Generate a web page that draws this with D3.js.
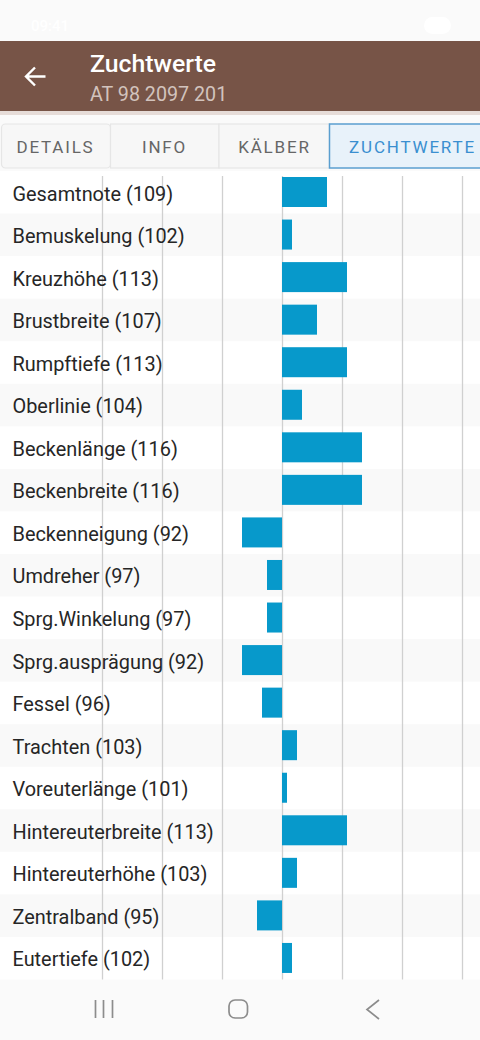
<!DOCTYPE html>
<html>
<head>
<meta charset="utf-8">
<style>
html, body { margin: 0; padding: 0; background: #fafafa; }
svg { display: block; font-family: Roboto, sans-serif; }
</style>
</head>
<body>
<div id="vis"></div>
<script src="https://cdn.jsdelivr.net/npm/d3@7"></script>
<script>
var names = ['Gesamtnote', 'Bemuskelung', 'Kreuzhöhe', 'Brustbreite', 'Rumpftiefe', 'Oberlinie',
    'Beckenlänge', 'Beckenbreite', 'Beckenneigung', 'Umdreher', 'Sprg.Winkelung', 'Sprg.ausprägung',
    'Fessel', 'Trachten', 'Voreuterlänge', 'Hintereuterbreite', 'Hintereuterhöhe', 'Zentralband', 'Eutertiefe'];
var values = [109, 102, 113, 107, 113, 104, 116, 116, 92, 97, 97, 92, 96, 103, 101, 113, 103, 95, 102];
var ticks = [64, 76, 88, 100, 112, 124, 136];
var tabs = ['DETAILS', 'INFO', 'KÄLBER', 'ZUCHTWERTE'];
var tabEdges = [1, 110, 218.5, 329, 482];

var width = 480, height = 1040;
var chartTop = 171, chartBottom = 979.5;

var svg = d3.select('#vis').append('svg')
    .attr('width', width)
    .attr('height', height);

//scales
var x = d3.scaleLinear().domain([64, 136]).range([102, 462]);
var y = d3.scaleBand().domain(names).range([chartTop, chartBottom]).paddingInner(0).paddingOuter(0);
var barHeight = 30;

//page background and status bar
svg.append('rect').attr('width', width).attr('height', height).attr('fill', '#fafafa');
svg.append('text').attr('x', 31).attr('y', 31).text('09:41')
    .attr('font-size', 15).attr('font-weight', 500).attr('fill', '#ffffff');
svg.append('rect').attr('x', 424).attr('y', 17).attr('width', 27).attr('height', 17).attr('rx', 8.5)
    .attr('fill', '#ffffff');

//header
svg.append('rect').attr('y', 41).attr('width', width).attr('height', 70).attr('fill', '#775447');
svg.append('rect').attr('y', 111).attr('width', width).attr('height', 4).attr('fill', '#e6dcd8');
svg.append('path').attr('d', 'M45.5 76.5H27M35 67.5L26 76.5L35 85.5')
    .attr('fill', 'none').attr('stroke', '#ffffff').attr('stroke-width', 2.4);
svg.append('text').attr('x', 90).attr('y', 72).text('Zuchtwerte')
    .attr('font-size', 24.8).attr('font-weight', 500).attr('fill', '#ffffff');
svg.append('text').attr('x', 90).attr('y', 101).text('AT 98 2097 201')
    .attr('font-size', 19.7).attr('fill', '#d2c3bd');

//tabs
tabs.forEach(function (d, i) {
    var active = i === tabs.length - 1;
    svg.append('rect')
        .attr('x', tabEdges[i] + 0.5).attr('y', 124)
        .attr('width', tabEdges[i + 1] - tabEdges[i]).attr('height', 44)
        .attr('rx', i === 0 ? 4 : 0)
        .attr('fill', active ? '#e8f2fa' : '#f7f7f7')
        .attr('stroke', active ? '#5b9fd0' : '#e6e6e6')
        .attr('stroke-width', active ? 1.5 : 1.2);
    svg.append('text')
        .attr('x', i === 0 ? 55.5 : i === 1 ? 164.5 : i === 2 ? 274.5 : 412.5)
        .attr('y', 153)
        .attr('text-anchor', 'middle')
        .attr('font-size', 17).attr('font-weight', 400).attr('letter-spacing', 1.8)
        .attr('fill', active ? '#3a8fd0' : '#666666')
        .text(d);
});

//chart background
svg.append('rect').attr('y', chartTop).attr('width', width).attr('height', chartBottom - chartTop)
    .attr('fill', '#ffffff');
svg.selectAll('.row')
    .data(names.filter(function (d, i) { return i % 2 === 1; }))
    .enter().append('rect')
    .attr('class', 'row')
    .attr('y', function (d) { return y(d); })
    .attr('width', width)
    .attr('height', y.bandwidth())
    .attr('fill', '#f9f9f9');

//grid from an axis with no labels
var grid = svg.append('g')
    .attr('transform', 'translate(0,176)')
    .call(d3.axisBottom(x).tickValues(ticks).tickSize(chartBottom - 176).tickFormat(''));
grid.select('.domain').remove();
grid.selectAll('line').attr('stroke', '#d0d0d0').attr('stroke-width', 1.3);

//bars
svg.selectAll('.bar')
    .data(values)
    .enter().append('rect')
    .attr('class', 'bar')
    .attr('x', function (d) { return x(Math.min(d, 100)); })
    .attr('y', function (d, i) { return y(names[i]) + 6; })
    .attr('width', function (d) { return Math.abs(x(d) - x(100)); })
    .attr('height', barHeight)
    .attr('fill', '#0799cb');

//labels
svg.selectAll('.label')
    .data(values)
    .enter().append('text')
    .attr('class', 'label')
    .attr('x', 12.5)
    .attr('y', function (d, i) { return y(names[i]) + 29.5; })
    .attr('font-size', 19.9)
    .attr('fill', '#262626')
    .text(function (d, i) { return names[i] + ' (' + d + ')'; });

//navigation bar
var nav = svg.append('g').attr('fill', 'none').attr('stroke', '#8c8c8c').attr('stroke-width', 1.7);
nav.append('path').attr('d', 'M95.5 1000V1018M103.5 1000V1018M112.5 1000V1018');
nav.append('rect').attr('x', 229).attr('y', 1000).attr('width', 18.5).attr('height', 18).attr('rx', 6);
nav.append('path').attr('d', 'M379 1000L367 1009.5L379 1019');
</script>
</body>
</html>
